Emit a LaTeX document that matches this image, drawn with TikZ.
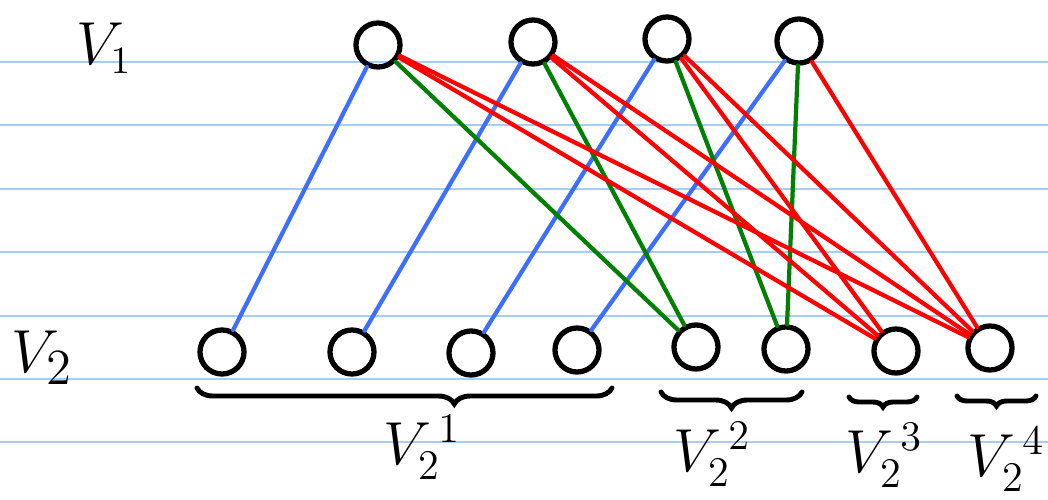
\documentclass[tikz,border=0pt]{standalone}
\usepackage{tikz}
\usetikzlibrary{decorations.pathreplacing,calc}
\definecolor{ruleblue}{RGB}{165,205,246}
\definecolor{edgeblue}{RGB}{60,110,255}
\definecolor{edgegreen}{RGB}{0,128,0}
\definecolor{edgered}{RGB}{255,0,0}

\begin{document}
\begin{tikzpicture}[x=0.01cm,y=-0.01cm,
    vtx/.style={circle,draw=black,line width=1.5pt,minimum size=4.4mm,inner sep=0pt},
    lbl/.style={inner sep=0pt,font=\fontsize{18}{21}\selectfont},
    e1/.style={edgeblue,line width=1.2pt,line cap=round},
    e2/.style={edgegreen,line width=1.2pt,line cap=round},
    e3/.style={edgered,line width=1.2pt,line cap=round},
    brc/.style={decorate,decoration={brace,mirror,amplitude=1.6mm},
      line width=1.4pt,line cap=round}]
  \clip (0,0) rectangle (1048,500);
  \fill[white] (0,0) rectangle (1048,500);
  % ruled paper
  \foreach \y in {62,125,189,252,316,379,442}
    \draw[ruleblue,line width=0.8pt] (0,\y) -- (1048,\y);
  % V_1
  \node[vtx] (t1) at (378,45) {};
  \node[vtx] (t2) at (533,42) {};
  \node[vtx] (t3) at (667,39) {};
  \node[vtx] (t4) at (799,41) {};
  % V_2
  \node[vtx] (b1) at (222,352) {};
  \node[vtx] (b2) at (352,352) {};
  \node[vtx] (b3) at (471,353) {};
  \node[vtx] (b4) at (577,350) {};
  \node[vtx] (b5) at (696,347) {};
  \node[vtx] (b6) at (786,349) {};
  \node[vtx] (b7) at (896,351) {};
  \node[vtx] (b8) at (990,348) {};
  \node[lbl,font=\fontsize{16}{19}\selectfont] (lv1) at (104,48) {$V_1$};
  \node[lbl,font=\fontsize{19}{22}\selectfont] (lv2) at (42,358) {$V_2$};
  % edges
  \draw[e1](t1)--(b1); \draw[e1](t2)--(b2); \draw[e1](t3)--(b3); \draw[e1](t4)--(b4);
  \draw[e2](t1)--(b5); \draw[e2](t2)--(b5); \draw[e2](t3)--(b6); \draw[e2](t4)--(b6);
  \draw[e3](t1)--(b7); \draw[e3](t2)--(b7); \draw[e3](t3)--(b7);
  \draw[e3](t1)--(b8); \draw[e3](t2)--(b8); \draw[e3](t3)--(b8); \draw[e3](t4)--(b8);
  % groups
  \coordinate (g1l) at (197,388); \coordinate (g1r) at (612,388);
  \coordinate (g2l) at (661,392); \coordinate (g2r) at (802,392);
  \coordinate (g3l) at (849,397); \coordinate (g3r) at (917,397);
  \coordinate (g4l) at (957,396); \coordinate (g4r) at (1036,396);
  \draw[brc,decoration={aspect=0.62}](g1l)--(g1r);
  \draw[brc](g2l)--(g2r);
  \draw[brc,decoration={amplitude=1mm}](g3l)--(g3r);
  \draw[brc,decoration={amplitude=1mm}](g4l)--(g4r);
  \node[lbl] (lg1) at (422,447) {$V_2^{\,1}$};
  \node[lbl] (lg2) at (712,454) {$V_2^{\,2}$};
  \node[lbl] (lg3) at (884,455) {$V_2^{\,3}$};
  \node[lbl] (lg4) at (1006,459) {$V_2^{\,4}$};
\end{tikzpicture}
\end{document}
